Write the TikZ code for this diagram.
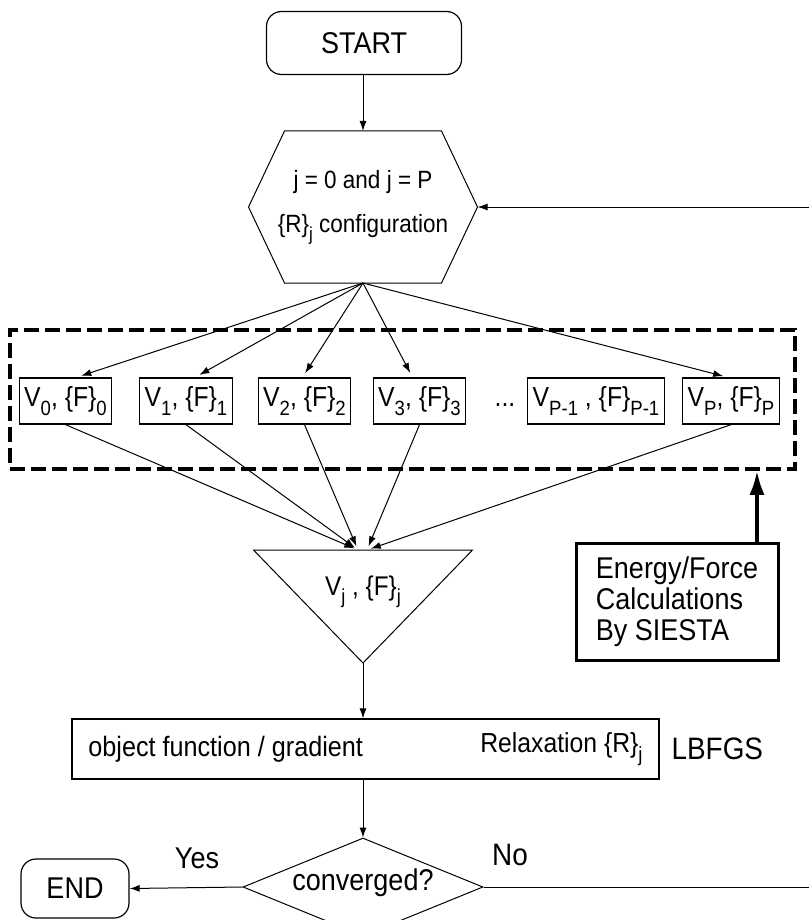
\documentclass[tikz,border=0pt]{standalone}
\usepackage{fontspec}
\setmainfont[FakeStretch=0.9]{Liberation Sans}
\usetikzlibrary{arrows.meta,shapes.geometric}
\newcommand{\lsub}[1]{\raisebox{-0.6ex}{\scalebox{0.75}{#1}}}
\tikzset{
  flow/.style={-{Latex[length=10pt,width=7pt]},line width=1pt},
  term/.style={draw,line width=1.2pt,rounded corners=15pt,inner sep=0pt},
  stepbox/.style={draw,line width=1.3pt,minimum height=46,inner xsep=5pt,inner ysep=0pt,font=\fontsize{27.5}{30}\selectfont},
  groupbox/.style={draw,line width=3.5pt,dash pattern=on 15pt off 6pt,minimum width=785,minimum height=139,inner sep=0pt},
  plain/.style={inner sep=0pt,outer sep=0pt}
}
\begin{document}
\begin{tikzpicture}[x=1pt,y=-1pt]
\useasboundingbox (0,0) rectangle (809,920);
\node[term,minimum width=195,minimum height=63,font=\fontsize{30}{32}\selectfont] (start) at (364,43) {START};
\node[plain,minimum width=229,minimum height=152,align=center,font=\fontsize{25}{44}\selectfont] (hex) at (363,207)
  {j = 0 and j = P\\\{R\}\lsub{j} configuration};
\draw[line width=1pt] ([xshift=36]hex.north west) -- ([xshift=-36]hex.north east) -- (hex.east)
  -- ([xshift=-36]hex.south east) -- ([xshift=36]hex.south west) -- (hex.west) -- cycle;
\coordinate (back) at (809,207);
\draw[flow] (hex.north |- start.south) -- (hex.north);
\draw[flow] (back) -- (hex.east);

\node[groupbox] (group) at (402.5,399.5) {};
\foreach \name/\xpos/\txt in {v0/65.5/{V\lsub{0}, \{F\}\lsub{0}},v1/186/{V\lsub{1}, \{F\}\lsub{1}},
    v2/304.5/{V\lsub{2}, \{F\}\lsub{2}},v3/419.5/{V\lsub{3}, \{F\}\lsub{3}},
    vq/596/{V\lsub{P-1} , \{F\}\lsub{P-1}},vp/731/{V\lsub{P}, \{F\}\lsub{P}}}
  \node[stepbox] (\name) at (\xpos,401) {\txt};
\node[plain,font=\fontsize{27.5}{30}\selectfont] (dots) at (505,405) {...};
\foreach \name/\dx in {v0/11,v1/9,v2/-2,v3/-7,vp/-3}
  \draw[flow,shorten >=5pt] (hex.south) -- ([xshift=\dx]\name.north);

\node[plain,minimum width=219,minimum height=113] (tri) at (363,606.5) {};
\draw[line width=1pt] (tri.north west) -- (tri.north east) -- (tri.south) -- cycle;
\node[plain,font=\fontsize{27}{30}\selectfont] (vj) at (363,592) {V\lsub{j} , \{F\}\lsub{j}};
\foreach \name/\dx in {v0/-5,v1/-5,v2/-5,v3/4,vp/4}
  \draw[flow,shorten >=4pt] (\name.south) -- ([xshift=\dx]tri.north);

\node[draw,line width=3pt,minimum width=202,minimum height=117,align=left,font=\fontsize{30}{31}\selectfont] (energy) at (677,601.5)
  {Energy/Force\\Calculations\\By SIESTA};
\draw[-{Latex[length=24pt,width=15pt]},line width=3.5pt] ([xshift=80]energy.north) -- ([xshift=80]energy.north |- group.south);

\node[draw,line width=1.2pt,minimum width=587,minimum height=60,inner sep=0pt] (relax) at (365.5,749) {};
\node[plain,anchor=west,font=\fontsize{28}{30}\selectfont] (objf) at ([xshift=17]relax.west) {object function / gradient};
\node[plain,anchor=east,font=\fontsize{27.5}{30}\selectfont] (rlx) at ([xshift=-17]relax.east) {Relaxation \{R\}\lsub{j}};
\node[plain,anchor=west,font=\fontsize{31}{30}\selectfont] (lbfgs) at ([xshift=12]relax.east) {LBFGS};
\draw[flow] (tri.south) -- (tri.south |- relax.north);

\node[draw,diamond,line width=1pt,minimum width=240,minimum height=98,inner sep=0pt] (conv) at (363,887) {};
\node[plain,font=\fontsize{30}{30}\selectfont] (convtxt) at (363,883) {converged?};
\draw[flow] (conv.north |- relax.south) -- (conv.north);
\node[term,minimum width=108,minimum height=59,font=\fontsize{30}{30}\selectfont] (endn) at (75,888.5) {END};
\draw[flow] (conv.west) -- (endn.east);
\node[plain,font=\fontsize{30}{30}\selectfont] (yes) at (197,858) {Yes};
\node[plain,font=\fontsize{31}{30}\selectfont] (no) at (510,855) {No};
\coordinate (loop) at (809,887);
\draw[line width=1pt] (conv.east) -- (loop);
\end{tikzpicture}
\end{document}
